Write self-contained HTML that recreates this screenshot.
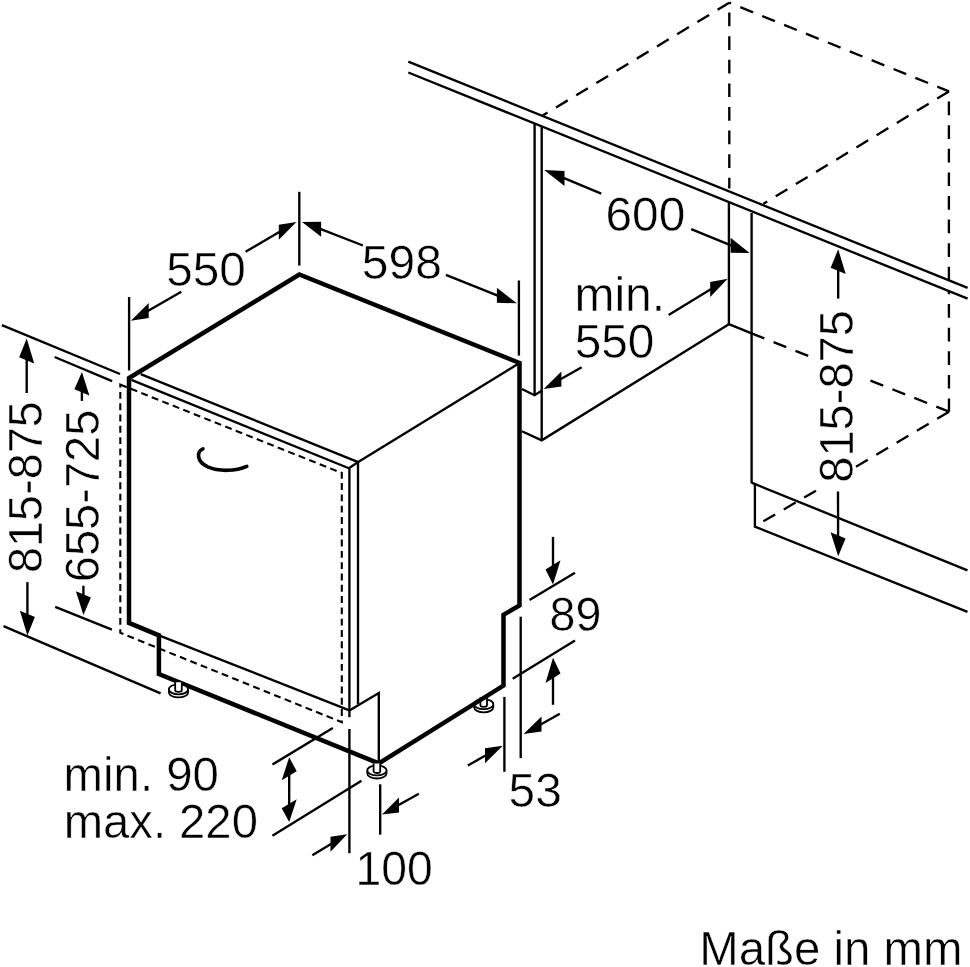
<!DOCTYPE html>
<html><head><meta charset="utf-8"><title>Maße in mm</title>
<style>
html,body{margin:0;padding:0;background:#fff}
svg{display:block;filter:grayscale(1)}
text{font-family:"Liberation Sans",sans-serif;fill:#000;stroke:#fff;stroke-width:.5}
.t{stroke:#000;stroke-width:2.35;fill:none;stroke-linecap:butt}
.k{stroke:#000;stroke-width:4.5;fill:none;stroke-linejoin:miter}
.d{stroke:#000;stroke-width:2.1;fill:none;stroke-dasharray:6.9 4.4}
.D{stroke:#000;stroke-width:2.35;fill:none;stroke-dasharray:13.7 9.9}
.h{stroke:#000;stroke-width:3.6;fill:none;stroke-linecap:round}
.a{fill:#000;stroke:none}
</style></head><body>
<svg width="970" height="967" viewBox="0 0 970 967">
<rect width="970" height="967" fill="#fff"/>
<path class="D" d="M729.3 2.7 L542.7 115.5"/>
<path class="D" d="M729.3 2.7 L948.9 91.4" stroke-dashoffset="11.7"/>
<path class="D" d="M729.3 2.7 L729.3 188.5" stroke-dashoffset="13.7"/>
<path class="D" d="M948.9 91.4 L763.4 203.8"/>
<path class="D" d="M948.9 280.5 L948.9 91.4"/>
<path class="D" d="M948.9 280.5 L949.0 411.7"/>
<path class="D" d="M751.6 333.4 L811.0 357.0"/>
<path class="D" d="M949.0 411.7 L868.0 379.6"/>
<path class="D" d="M949.0 411.7 L856.0 466.8"/>
<path class="D" d="M816.0 490.7 L763.2 521.4"/>
<polygon fill="#fff" points="408.3,61.7 967.6,287.9 967.6,298.7 408.3,72.5"/>
<line class="t" x1="408.3" y1="61.7" x2="967.6" y2="287.9"/>
<line class="t" x1="408.3" y1="72.5" x2="967.6" y2="298.7"/>
<line class="t" x1="534.6" y1="123.8" x2="534.6" y2="395.2"/>
<line class="t" x1="541.7" y1="126.9" x2="541.7" y2="440.3"/>
<path class="t" d="M521.9 389.0 L534.5 395.2 L541.7 390.8"/>
<path class="t" d="M521.9 431.2 L541.7 440.3 L728.9 324.2"/>
<line class="t" x1="728.9" y1="201.7" x2="728.9" y2="324.7"/>
<path class="t" d="M728.9 324.2 L751.6 333.4"/>
<line class="t" x1="751.6" y1="213.0" x2="751.6" y2="483.2"/>
<path class="t" d="M751.6 482.7 L967.5 570.3"/>
<path class="t" d="M754.9 484.2 L754.9 526.6 L967.5 611.9"/>
<line class="t" x1="601.2" y1="193.7" x2="561.7" y2="177.2"/>
<polygon class="a" points="544.2,169.9 564.5,185.9 564.5,170.9"/>
<line class="t" x1="691.2" y1="229.1" x2="733.4" y2="246.4"/>
<polygon class="a" points="749.6,253.1 730.6,252.8 730.6,237.8"/>
<text x="605.5" y="230.6" font-size="48" textLength="79.7" lengthAdjust="spacingAndGlyphs">600</text>
<text x="574.4" y="311.2" font-size="48" textLength="90.7" lengthAdjust="spacingAndGlyphs">min.</text>
<text x="574.7" y="357.7" font-size="48" textLength="79.7" lengthAdjust="spacingAndGlyphs">550</text>
<line class="t" x1="668.6" y1="315.1" x2="712.8" y2="287.9"/>
<polygon class="a" points="727.7,278.7 710.2,297.0 710.2,282.0"/>
<line class="t" x1="581.7" y1="367.3" x2="558.8" y2="380.3"/>
<polygon class="a" points="543.6,389.0 561.4,386.4 561.4,371.4"/>
<line class="t" x1="838.2" y1="298.6" x2="838.2" y2="267.8"/>
<polygon class="a" points="838.2,249.3 845.7,273.9 830.7,267.7"/>
<line class="t" x1="838.0" y1="491.5" x2="838.1" y2="538.4"/>
<polygon class="a" points="838.2,556.2 845.6,538.5 830.6,532.3"/>
<text x="853.1" y="482.8" font-size="48" textLength="172.8" lengthAdjust="spacingAndGlyphs" transform="rotate(-90 853.1 482.8)">815-875</text>
<path d="M474.1 704.2 v3.1 a9.6 5 0 0 0 19.2 0 v-3.1" fill="#fff" stroke="#000" stroke-width="1.8"/>
<ellipse cx="483.7" cy="704.2" rx="9.6" ry="5" fill="#fff" stroke="#000" stroke-width="1.8"/>
<path d="M480.4 697.2 v8 a3.3 1.6 0 0 0 6.6 0 v-8" fill="#fff" stroke="#000" stroke-width="1.8"/>
<path class="k" d="M158.9 674.0 L158.9 635.3 L129.0 622.9 L129.0 378.1 L299.3 274.5 L519.5 363.0 L519.5 605.5 L503.5 614.8 L503.5 685.6 L378.8 763.4 Z"/>
<line class="t" x1="140.7" y1="374.1" x2="358.2" y2="462.1"/>
<path class="t" d="M131.4 379.8 L348.9 468.3 L358.2 462.1"/>
<line class="t" x1="358.2" y1="462.1" x2="517.5" y2="364.3"/>
<line class="t" x1="358.0" y1="462.0" x2="358.0" y2="704.2"/>
<line class="t" x1="349.4" y1="468.3" x2="349.4" y2="717.2"/>
<line class="t" x1="349.4" y1="729.0" x2="349.4" y2="853.2"/>
<line class="t" x1="158.9" y1="635.3" x2="349.4" y2="710.4"/>
<path class="t" d="M349.4 710.4 L378.8 693.0 L378.8 763.0"/>
<path class="d" d="M120.3 384.6 L341.8 473.0 L341.8 722.2 L120.3 632.8 Z"/>
<path class="h" d="M202.9 448.8 C196.5 451.5 196.3 461.5 207.8 466.9 C219 471.8 236 471.3 246.8 466.4"/>
<path d="M168.9 689.3 v3.1 a9.6 5 0 0 0 19.2 0 v-3.1" fill="#fff" stroke="#000" stroke-width="1.8"/>
<ellipse cx="178.5" cy="689.3" rx="9.6" ry="5" fill="#fff" stroke="#000" stroke-width="1.8"/>
<path d="M175.2 682.3 v8 a3.3 1.6 0 0 0 6.6 0 v-8" fill="#fff" stroke="#000" stroke-width="1.8"/>
<path d="M367.3 770.4 v3.1 a9.6 5 0 0 0 19.2 0 v-3.1" fill="#fff" stroke="#000" stroke-width="1.8"/>
<ellipse cx="376.9" cy="770.4" rx="9.6" ry="5" fill="#fff" stroke="#000" stroke-width="1.8"/>
<path d="M373.6 763.4 v8 a3.3 1.6 0 0 0 6.6 0 v-8" fill="#fff" stroke="#000" stroke-width="1.8"/>
<line class="t" x1="129.1" y1="297.0" x2="129.1" y2="370.5"/>
<line class="t" x1="299.3" y1="191.8" x2="299.3" y2="265.6"/>
<line class="t" x1="518.9" y1="280.5" x2="518.9" y2="355.6"/>
<line class="t" x1="245.6" y1="251.7" x2="281.4" y2="230.7"/>
<polygon class="a" points="296.5,221.9 278.8,239.8 278.8,224.8"/>
<line class="t" x1="181.3" y1="291.7" x2="146.1" y2="312.0"/>
<polygon class="a" points="130.9,320.7 148.7,318.0 148.7,303.0"/>
<line class="t" x1="362.9" y1="245.5" x2="318.3" y2="228.2"/>
<polygon class="a" points="302.0,221.9 321.1,236.8 321.1,221.8"/>
<line class="t" x1="445.9" y1="274.8" x2="499.6" y2="296.4"/>
<polygon class="a" points="516.8,303.3 496.9,302.8 496.9,287.8"/>
<text x="166.2" y="285.8" font-size="48" textLength="79.6" lengthAdjust="spacingAndGlyphs">550</text>
<text x="361.8" y="278.8" font-size="48" textLength="80.0" lengthAdjust="spacingAndGlyphs">598</text>
<line class="t" x1="1.9" y1="325.2" x2="120.0" y2="374.0"/>
<line class="t" x1="54.6" y1="357.0" x2="112.1" y2="381.1"/>
<line class="t" x1="3.5" y1="626.1" x2="160.6" y2="693.3"/>
<line class="t" x1="55.2" y1="606.8" x2="111.9" y2="629.7"/>
<line class="t" x1="26.7" y1="393.0" x2="26.7" y2="357.4"/>
<polygon class="a" points="26.7,338.6 34.2,363.5 19.2,357.3"/>
<line class="t" x1="27.4" y1="582.1" x2="27.4" y2="616.8"/>
<polygon class="a" points="27.4,635.6 34.9,616.9 19.9,610.7"/>
<line class="t" x1="81.9" y1="400.9" x2="81.9" y2="389.4"/>
<polygon class="a" points="81.9,371.9 89.4,395.5 74.4,389.3"/>
<line class="t" x1="83.4" y1="585.7" x2="83.4" y2="597.4"/>
<polygon class="a" points="83.4,614.9 90.9,597.5 75.9,591.3"/>
<text x="42.0" y="573.0" font-size="48" textLength="171.9" lengthAdjust="spacingAndGlyphs" transform="rotate(-90 42.0 573.0)">815-875</text>
<text x="99.0" y="582.2" font-size="48" textLength="172.6" lengthAdjust="spacingAndGlyphs" transform="rotate(-90 99.0 582.2)">655-725</text>
<text x="63.6" y="791.3" font-size="48" textLength="155.3" lengthAdjust="spacingAndGlyphs">min. 90</text>
<text x="63.7" y="837.6" font-size="48" textLength="194.2" lengthAdjust="spacingAndGlyphs">max. 220</text>
<line class="t" x1="272.4" y1="764.6" x2="332.8" y2="728.0"/>
<line class="t" x1="272.4" y1="835.8" x2="361.5" y2="780.8"/>
<line class="t" x1="289.2" y1="790.0" x2="289.2" y2="772.7"/>
<polygon class="a" points="289.2,757.3 296.7,771.2 281.7,780.2"/>
<line class="t" x1="289.2" y1="790.0" x2="289.2" y2="806.7"/>
<polygon class="a" points="289.2,822.1 296.7,799.2 281.7,808.2"/>
<line class="t" x1="380.2" y1="784.3" x2="380.2" y2="834.7"/>
<line class="t" x1="312.3" y1="855.3" x2="333.1" y2="842.7"/>
<polygon class="a" points="347.2,834.2 330.5,851.8 330.5,836.8"/>
<line class="t" x1="418.8" y1="793.8" x2="396.4" y2="806.3"/>
<polygon class="a" points="382.0,814.4 399.0,812.4 399.0,797.4"/>
<text x="355.5" y="884.9" font-size="48" textLength="77.2" lengthAdjust="spacingAndGlyphs">100</text>
<line class="t" x1="520.7" y1="616.7" x2="520.7" y2="758.1"/>
<line class="t" x1="504.4" y1="696.9" x2="504.4" y2="771.8"/>
<line class="t" x1="529.5" y1="600.1" x2="575.0" y2="572.8"/>
<line class="t" x1="512.7" y1="678.7" x2="575.0" y2="640.6"/>
<line class="t" x1="553.0" y1="536.9" x2="553.0" y2="567.8"/>
<polygon class="a" points="553.0,584.6 560.5,560.2 545.5,569.5"/>
<line class="t" x1="553.0" y1="704.8" x2="553.0" y2="675.2"/>
<polygon class="a" points="553.0,657.7 560.5,673.6 545.5,682.9"/>
<text x="549.5" y="631.4" font-size="48" textLength="51.8" lengthAdjust="spacingAndGlyphs">89</text>
<line class="t" x1="559.8" y1="713.8" x2="538.9" y2="725.5"/>
<polygon class="a" points="523.6,734.0 541.5,731.5 541.5,716.5"/>
<line class="t" x1="467.8" y1="765.6" x2="487.6" y2="754.3"/>
<polygon class="a" points="502.8,745.7 485.0,763.3 485.0,748.3"/>
<text x="508.6" y="807.2" font-size="48" textLength="53.1" lengthAdjust="spacingAndGlyphs">53</text>
<text x="699.2" y="964.6" font-size="48" textLength="263.3" lengthAdjust="spacingAndGlyphs">Maße in mm</text>
</svg>
</body></html>
